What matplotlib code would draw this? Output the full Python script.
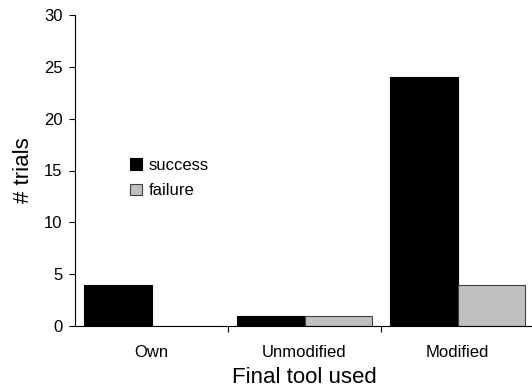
import matplotlib
matplotlib.use("Agg")
import matplotlib.pyplot as plt
import numpy as np

plt.rcParams["font.family"] = ["Liberation Sans", "DejaVu Sans"]

categories = ["Own", "Unmodified", "Modified"]
success = [4, 1, 24]
failure = [0, 1, 4]

W, H = 532, 392
fig = plt.figure(figsize=(W / 100, H / 100), dpi=100)
ax = fig.add_axes([75 / W, 66 / H, 459 / W, 311 / H])

x = np.arange(len(categories))
bw = 0.44
ax.bar(x - bw / 2, success, bw, color="black", edgecolor="black", linewidth=0.8, label="success")
ax.bar(x + bw / 2, failure, bw, color="#c0c0c0", edgecolor="#404040", linewidth=0.8, label="failure")

ax.set_xlim(-0.5, 2.5)
ax.set_ylim(0, 30)
ax.set_yticks(range(0, 31, 5))
ax.set_xticks(x)
ax.set_xticklabels(categories)
ax.set_xticks([0.5, 1.5], minor=True)

ax.tick_params(axis="y", direction="out", length=4, width=0.8, labelsize=12, pad=5)
ax.tick_params(axis="x", which="major", length=0, labelsize=12, pad=14)
ax.tick_params(axis="x", which="minor", direction="out", length=4, width=0.8)

for s in ["top", "right"]:
    ax.spines[s].set_visible(False)
for s in ["left", "bottom"]:
    ax.spines[s].set_linewidth(0.8)

ax.set_ylabel("# trials", fontsize=16, labelpad=7)
ax.set_xlabel("Final tool used", fontsize=16, labelpad=5)

ax.legend(loc="center left", bbox_to_anchor=(122 / W, 1 - 178 / H),
          bbox_transform=fig.transFigure, frameon=False, borderpad=0,
          fontsize=12, handlelength=0.7, handleheight=0.7,
          handletextpad=0.4, labelspacing=0.65)

fig.savefig("out.png", dpi=100)
